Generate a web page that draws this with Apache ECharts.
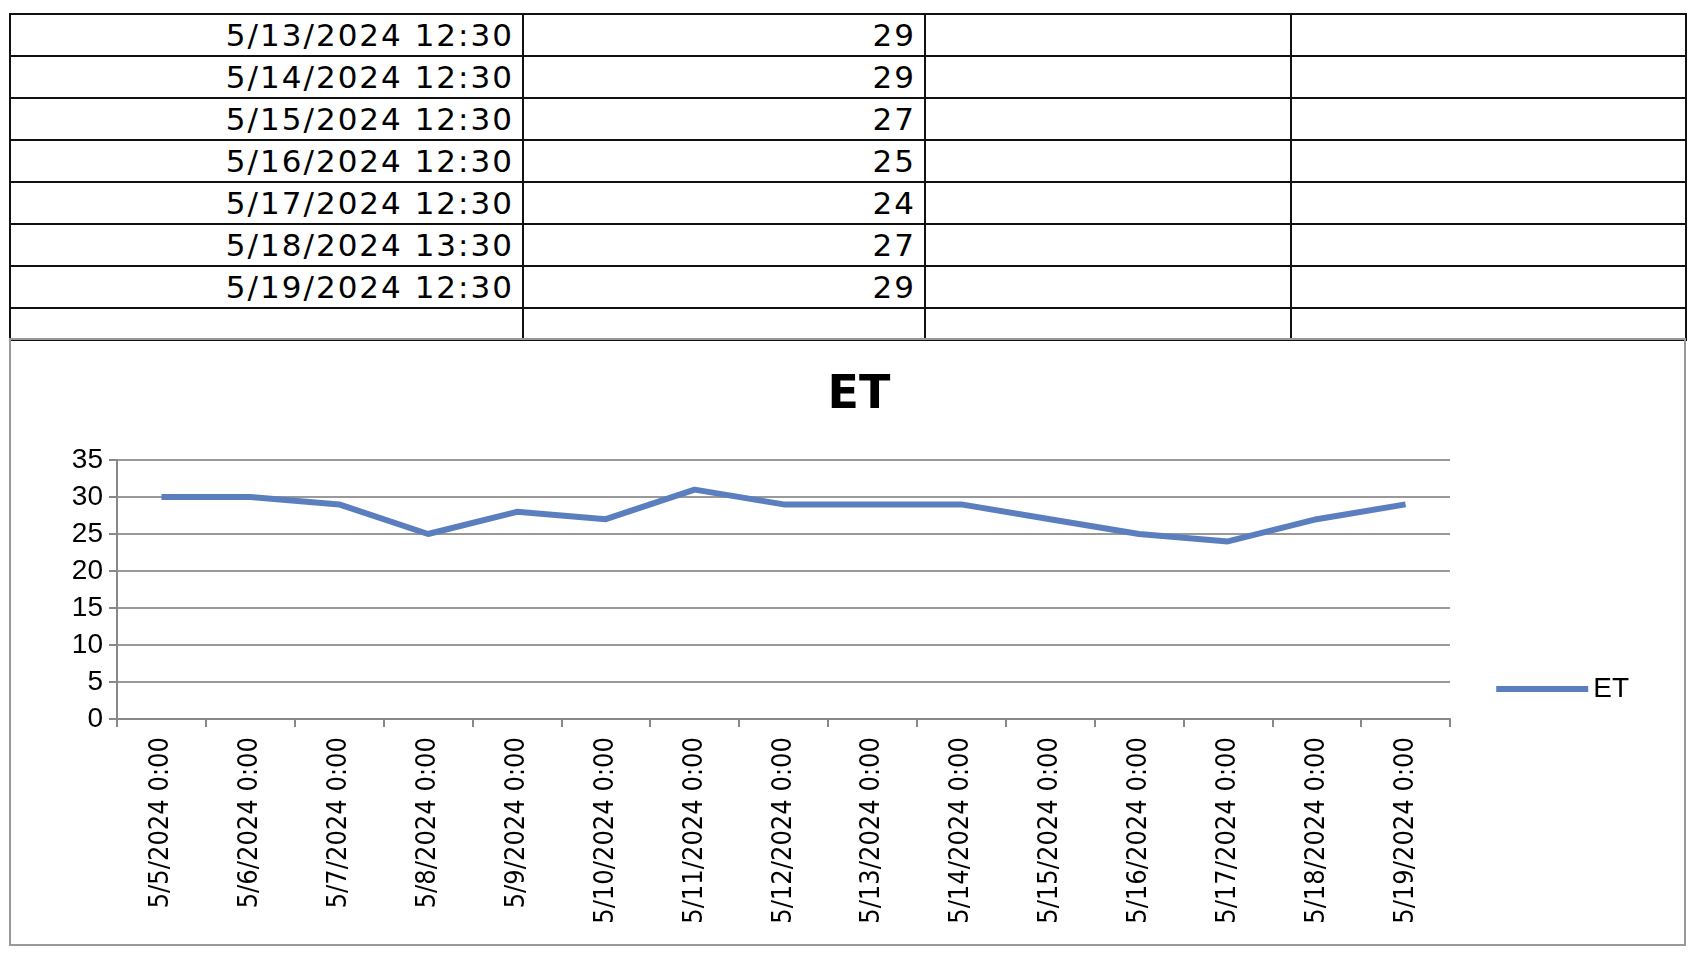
<!DOCTYPE html>
<html><head><meta charset="utf-8">
<script src="https://cdn.jsdelivr.net/npm/echarts@6/dist/echarts.min.js"></script>
<style>
body{margin:0;background:#fff;width:1694px;height:960px;overflow:hidden;position:relative}
#tbl{position:absolute;left:9px;top:13px;border-collapse:collapse;table-layout:fixed;font-family:"DejaVu Sans";font-size:31px;letter-spacing:2px}
#tbl td{border:2px solid #111;height:40px;padding:0 8px;text-align:right;line-height:40px;overflow:hidden;white-space:nowrap}
#chart{position:absolute;left:9px;top:338px;width:1677px;height:608px;border:2px solid #999;box-sizing:border-box}
</style></head><body>
<table id="tbl"></table>
<div id="chart"></div>
<script>
// table rows above the chart
var tableTimes = ['5/13/2024 12:30','5/14/2024 12:30','5/15/2024 12:30','5/16/2024 12:30','5/17/2024 12:30','5/18/2024 13:30','5/19/2024 12:30',''];
var tableValues = ['29','29','27','25','24','27','29',''];
// chart data
var dates = ['5/5/2024 0:00','5/6/2024 0:00','5/7/2024 0:00','5/8/2024 0:00','5/9/2024 0:00','5/10/2024 0:00','5/11/2024 0:00','5/12/2024 0:00','5/13/2024 0:00','5/14/2024 0:00','5/15/2024 0:00','5/16/2024 0:00','5/17/2024 0:00','5/18/2024 0:00','5/19/2024 0:00'];
var et = [30,30,29,25,28,27,31,29,29,29,27,25,24,27,29];

var colW = [513, 402, 366, 395];
var html = '';
tableTimes.forEach(function (t, i) {
  var h = i == tableTimes.length - 1 ? 'height:30px' : '';
  html += '<tr>' +
    '<td style="width:' + (colW[0]-18) + 'px;' + h + '">' + t + '</td>' +
    '<td style="width:' + (colW[1]-18) + 'px;' + h + '">' + tableValues[i] + '</td>' +
    '<td style="width:' + (colW[2]-18) + 'px;' + h + '"></td>' +
    '<td style="width:' + (colW[3]-18) + 'px;' + h + '"></td></tr>';
});
document.getElementById('tbl').innerHTML = html;

var chart = echarts.init(document.getElementById('chart'));
chart.setOption({
  animation: false,
  title: {
    text: 'ET', left: 852 - 9, top: 28, textAlign: 'center',
    textStyle: { fontFamily: 'DejaVu Sans', fontWeight: 'bold', fontSize: 46, color: '#000' }
  },
  legend: {
    right: 50, top: 330, itemWidth: 92, itemHeight: 6, itemGap: 6,
    textStyle: { fontFamily: 'Liberation Sans Narrow, Liberation Sans', fontSize: 28, color: '#000' },
    data: [{ name: 'ET', icon: 'rect' }]
  },
  grid: { left: 106, right: 1686 - 1452, top: 120, bottom: 608 - 383 },
  xAxis: {
    type: 'category', data: dates, boundaryGap: true,
    axisLine: { lineStyle: { color: '#888', width: 2 } },
    axisTick: { show: true, length: 8, lineStyle: { color: '#888', width: 2 } },
    axisLabel: { rotate: 90, interval: 0, fontFamily: 'DejaVu Sans Condensed, DejaVu Sans', fontSize: 27, color: '#000', margin: 18 }
  },
  yAxis: {
    type: 'value', min: 0, max: 35, interval: 5,
    axisLine: { show: true, lineStyle: { color: '#888', width: 2 } },
    axisTick: { show: true, length: 8, lineStyle: { color: '#888', width: 2 } },
    splitLine: { lineStyle: { color: '#999', width: 2 } },
    axisLabel: { fontFamily: 'Liberation Sans Narrow, Liberation Sans', fontSize: 28, color: '#000', margin: 14 }
  },
  series: [{
    name: 'ET', type: 'line', data: et, showSymbol: false,
    lineStyle: { color: '#5b7fbe', width: 6 }, itemStyle: { color: '#5b7fbe' }
  }]
});
</script>
</body></html>
